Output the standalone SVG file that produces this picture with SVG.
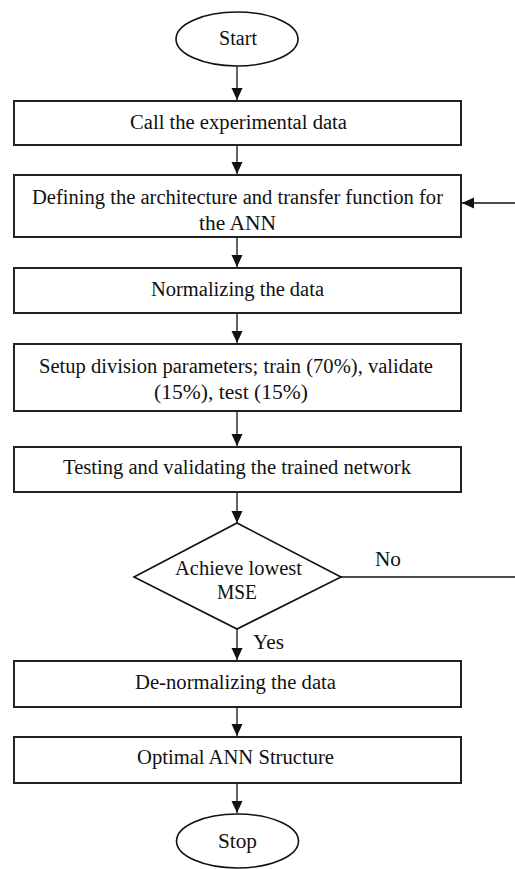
<svg xmlns="http://www.w3.org/2000/svg" width="515" height="869" viewBox="0 0 515 869">
<style>
.box{fill:#fff;stroke:#222;stroke-width:2}
.term{fill:#fff;stroke:#111;stroke-width:1.6}
.t{font-family:'Liberation Serif','DejaVu Serif',serif;font-size:20.5px;fill:#111;text-anchor:middle}
.c{fill:none;stroke:#111;stroke-width:1.3}
</style>
<defs>
<marker id="ah" markerUnits="userSpaceOnUse" markerWidth="12" markerHeight="12" refX="12" refY="6" orient="auto">
<path d="M0,0.5 L12,6 L0,11.5 z" fill="#111"/>
</marker>
</defs>
<rect width="515" height="869" fill="#fff"/>
<g id="connectors">
<line class="c" x1="237" y1="66" x2="237" y2="100" marker-end="url(#ah)"/>
<line class="c" x1="237" y1="146" x2="237" y2="174" marker-end="url(#ah)"/>
<line class="c" x1="237" y1="238" x2="237" y2="267" marker-end="url(#ah)"/>
<line class="c" x1="237" y1="314" x2="237" y2="343" marker-end="url(#ah)"/>
<line class="c" x1="237" y1="412" x2="237" y2="446" marker-end="url(#ah)"/>
<line class="c" x1="237" y1="493" x2="237" y2="523" marker-end="url(#ah)"/>
<line class="c" x1="237" y1="629" x2="237" y2="660" marker-end="url(#ah)"/>
<line class="c" x1="237" y1="708" x2="237" y2="736" marker-end="url(#ah)"/>
<line class="c" x1="237" y1="784" x2="237" y2="813" marker-end="url(#ah)"/>
<path class="c" d="M341,577 H517 V203 H462" marker-end="url(#ah)"/>
<text class="t" x="388" y="566" textLength="26" lengthAdjust="spacingAndGlyphs">No</text>
<text class="t" x="268.5" y="649" textLength="31" lengthAdjust="spacingAndGlyphs">Yes</text>
</g>
<g id="start"><ellipse class="term" cx="237" cy="39" rx="61" ry="27"/><text class="t" x="238" y="45" textLength="38" lengthAdjust="spacingAndGlyphs">Start</text></g>
<g id="call"><rect class="box" x="14" y="101" width="447" height="44"/><text class="t" x="238.5" y="129" textLength="217" lengthAdjust="spacingAndGlyphs">Call the experimental data</text></g>
<g id="define"><rect class="box" x="14" y="175" width="447" height="62"/><text class="t" x="237.5" y="204" textLength="411" lengthAdjust="spacingAndGlyphs">Defining the architecture  and transfer function for</text><text class="t" x="237.5" y="230" textLength="77" lengthAdjust="spacingAndGlyphs">the ANN</text></g>
<g id="normalize"><rect class="box" x="14" y="268" width="447" height="45"/><text class="t" x="237.5" y="296" textLength="173" lengthAdjust="spacingAndGlyphs">Normalizing the data</text></g>
<g id="setup"><rect class="box" x="14" y="344" width="447" height="67"/><text class="t" x="236" y="373" textLength="394" lengthAdjust="spacingAndGlyphs">Setup division parameters; train (70%), validate</text><text class="t" x="231" y="399" textLength="154" lengthAdjust="spacingAndGlyphs">(15%), test (15%)</text></g>
<g id="testing"><rect class="box" x="14" y="447" width="447" height="45"/><text class="t" x="237" y="474" textLength="348" lengthAdjust="spacingAndGlyphs">Testing and validating the trained network</text></g>
<g id="decision"><polygon class="term" points="237,523 341,577 237,629 134,577"/><text class="t" x="238.5" y="575" textLength="127" lengthAdjust="spacingAndGlyphs">Achieve lowest</text><text class="t" x="237" y="599" textLength="40" lengthAdjust="spacingAndGlyphs">MSE</text></g>
<g id="denorm"><rect class="box" x="14" y="661" width="447" height="46"/><text class="t" x="235.5" y="689" textLength="201" lengthAdjust="spacingAndGlyphs">De-normalizing the data</text></g>
<g id="optimal"><rect class="box" x="14" y="737" width="447" height="46"/><text class="t" x="235.5" y="764" textLength="197" lengthAdjust="spacingAndGlyphs">Optimal ANN Structure</text></g>
<g id="stop"><ellipse class="term" cx="237.5" cy="841" rx="61" ry="27"/><text class="t" x="237.5" y="848" textLength="39" lengthAdjust="spacingAndGlyphs">Stop</text></g>
</svg>
